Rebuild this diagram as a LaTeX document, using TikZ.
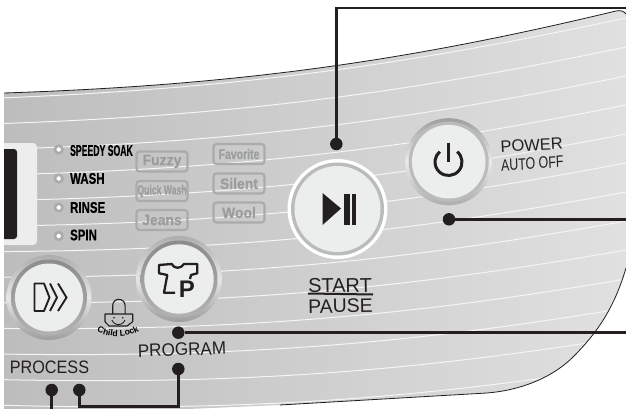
\documentclass[tikz,border=0pt]{standalone}
\usepackage{fontspec}
\setmainfont{Liberation Sans}
\newfontfamily\heavyf[FakeBold=0.5]{Liberation Sans Bold}
\usetikzlibrary{calc,decorations.text}
\definecolor{ringg}{HTML}{B9BBBC}
\definecolor{facec}{HTML}{ECEEEE}
\definecolor{chipc}{HTML}{A9ABAD}
\definecolor{chipt}{HTML}{9A9C9E}
\definecolor{inkc}{HTML}{231F20}
\tikzset{
  x=1pt,y=-1pt,
  leader/.style={draw=inkc,line width=2.7pt},
  dotn/.style={circle,fill=inkc,inner sep=0pt,minimum size=12.5pt},
  groove/.style={draw=black!4,line width=1pt},
  chip/.style={draw=chipc,line width=2.2pt,rounded corners=3pt,text=chipt,inner sep=0pt,minimum height=20pt,minimum width=51pt,font=\heavyf\fontsize{15}{15}\selectfont},
  led/.style={circle,fill=white,draw=chipc,line width=2.6pt,minimum size=7.5pt,inner sep=0pt},
  ledtext/.style={anchor=west,inner sep=0pt,font=\heavyf\fontsize{15.5}{15.5}\selectfont,text=black},
  lab/.style={inner sep=0pt,text=inkc}
}
\begin{document}
\begin{tikzpicture}
\useasboundingbox (0,0) rectangle (626,409);
\fill[white] (0,0) rectangle (626,409);
\def\panelpath{(4,93) .. controls (250,85) and (420,58) .. (616,11) .. controls (620,10) and (624,11) .. (626,14) -- (626,268) .. controls (615,305) and (600,330) .. (573,357) .. controls (555,375) and (525,390) .. (486.7,393) -- (280,405) -- (4,417) -- cycle}
\begin{scope}
\clip \panelpath;
\shade[left color=black!26,right color=black!12] (0,0) rectangle (626,420);
\foreach \i in {0,...,13}{
  \draw[groove] (0,{98+25.6*\i}) .. controls (250,{88+27*\i}) and (420,{62+28*\i}) .. (626,{18+29*\i});
}
\end{scope}
\draw[inkc,line width=.8pt] (4,93) .. controls (250,85) and (420,58) .. (616,11) .. controls (620,10) and (624,11) .. (626,14);
\draw[inkc,line width=.8pt] (626,268) .. controls (615,305) and (600,330) .. (573,357) .. controls (555,375) and (525,390) .. (486.7,393) -- (280,405);
% display
\fill[black!7,rounded corners=4pt] (-6,143) rectangle (37,245);
\fill[inkc,rounded corners=3pt] (-6,149) rectangle (17,239);
\fill[white] (0,90) rectangle (4,409);
% LEDs
\node[led] (l1) at (58.7,149.5) {};
\node[led] (l2) at (58.7,178.5) {};
\node[led] (l3) at (58.7,207.5) {};
\node[led] (l4) at (58.7,236) {};
\node[ledtext,xscale=.56] (t1) at (70,150.5) {SPEEDY SOAK};
\node[ledtext,xscale=.74] (t2) at (70,178.5) {WASH};
\node[ledtext,xscale=.74] (t3) at (70,207.5) {RINSE};
\node[ledtext,xscale=.74] (t4) at (70,235) {SPIN};
% chips
\node[chip,xscale=1] (fz) at (162,161.5) {\scalebox{.93}[1]{Fuzzy}};
\node[chip] (qw) at (162,191) {\fontsize{13.5}{13.5}\selectfont\scalebox{.64}[1]{Quick Wash}};
\node[chip] (jn) at (162,220) {\scalebox{.93}[1]{Jeans}};
\node[chip] (fv) at (239,154) {\fontsize{14}{14}\selectfont\scalebox{.75}[1]{Favorite}};
\node[chip] (sl) at (239,183.5) {\scalebox{.93}[1]{Silent}};
\node[chip] (wl) at (239,212.5) {\scalebox{.93}[1]{Wool}};
% buttons
\shade[top color=black!32,bottom color=black!38,middle color=black!10] (49,297.5) circle (42.5);
\shade[top color=black!45,bottom color=black!30] (49,297.5) circle (38);
\fill[facec] (49,297.5) circle (34);
\shade[top color=black!32,bottom color=black!38,middle color=black!10] (179,279) circle (43);
\shade[top color=black!45,bottom color=black!30] (179,279) circle (38.5);
\fill[facec] (179,279) circle (34.7);
\shade[top color=black!38,bottom color=black!32,middle color=black!8] (448.7,161.7) circle (43.5);
\fill[ringg] (448.7,161.7) circle (40);
\fill[facec] (448.7,161.7) circle (36.8);
\fill[white] (337.5,209) circle (50);
\fill[ringg] (337.5,209) circle (46.5);
\fill[facec] (337.5,209) circle (43);
% play-pause
\fill[inkc] (322.5,193) -- (341,208.5) -- (322.5,225) -- cycle;
\fill[inkc] (344,194) rectangle (349.5,224.5);
\fill[inkc] (352,194) rectangle (356,224.5);
% power
\draw[inkc,line width=3pt] ($(448.5,162)+(-50:13.5)$) arc[start angle=-50,delta angle=280,radius=13.5];
\draw[inkc,line width=2.8pt] (448.5,142.5) -- (448.5,162);
% process icon
\draw[inkc,line width=1.9pt,line join=round] (34.5,283.5) -- (44,283.5) -- (49.5,297.5) -- (44,311) -- (34.5,311) -- cycle;
\draw[inkc,line width=1.9pt] (50,283.5) -- (57,297.5) -- (50,311);
\draw[inkc,line width=1.9pt] (58,283.5) -- (66.5,297.5) -- (58,311);
% program icon
\draw[inkc,line width=2.3pt,line join=round] (175,292.7) -- (164,292.7) -- (167.3,275) -- (159,273.3) -- (159,265) -- (171.7,264) .. controls (174,269) and (181,269) .. (184,264) -- (197.3,264) -- (197.3,273.3) -- (191,275) -- (190,279);
\node[lab,font=\bfseries\fontsize{24}{24}\selectfont] (pp) at (187,289.5) {P};
% child lock
\draw[inkc,line width=1.1pt,line join=round] (105,314) -- (132.7,314) -- (132.7,321.7) -- (127,326) -- (109,326) -- (105,321.7) -- cycle;
\draw[inkc,line width=1.1pt] (112.7,314) -- (112.7,305.5) arc[start angle=180,end angle=360,radius=6.2] -- (125.1,314);
\draw[inkc,line width=.9pt] (125,320) arc[start angle=20,end angle=160,radius=7];
\fill[inkc] (114,317.7) circle (.9) (122.7,317.7) circle (.9);
\path[decorate,decoration={text along path,text align=center,text={|\bfseries\fontsize{8.6}{8.6}\selectfont|Child Lock}}] (95,331) .. controls (110,338.5) and (126,338.5) .. (141,330);
% labels
\node[lab,font=\fontsize{18}{18}\selectfont,xscale=.9] (procl) at (49.5,367.5) {PROCESS};
\node[lab,font=\fontsize{18}{18}\selectfont,xscale=.95,rotate=2] (progl) at (182,349.5) {PROGRAM};
\node[lab,font=\fontsize{20}{20}\selectfont,rotate=1] (st) at (340,285.5) {START};
\node[lab,font=\fontsize{19.5}{20}\selectfont,rotate=1] (pa) at (340.5,306) {PAUSE};
\coordinate (ba) at (308,293.5);
\coordinate (bb) at (373,294.5);
\draw[inkc,line width=2pt] (ba) -- (bb);
\node[lab,font=\fontsize{16.5}{17}\selectfont,rotate=3] (pw) at (531.7,145) {POWER};
\node[lab,font=\fontsize{16.5}{16.5}\selectfont,xscale=.75,rotate=3] (ao) at (532.3,163.5) {AUTO OFF};
% leaders
\node[dotn] (d1) at (336.3,144) {};
\coordinate (e1) at (626,8);
\draw[leader] (d1) -- (336.3,8) -- (e1);
\node[dotn] (d2) at (449,219.3) {};
\coordinate (e2) at (626,219.3);
\draw[leader] (d2) -- (e2);
\node[dotn] (d3) at (178.3,332.7) {};
\coordinate (e3) at (626,332.7);
\draw[leader] (d3) -- (e3);
\node[dotn] (d4) at (178.3,369) {};
\node[dotn] (d5) at (79.3,390) {};
\node[dotn] (d6) at (51.7,390) {};
\coordinate (e6) at (51.7,409);
\draw[leader] (d6) -- (e6);
\draw[leader] (d5) -- (79.3,406.5) -- (178.3,406.5) -- (d4);
\end{tikzpicture}
\end{document}
